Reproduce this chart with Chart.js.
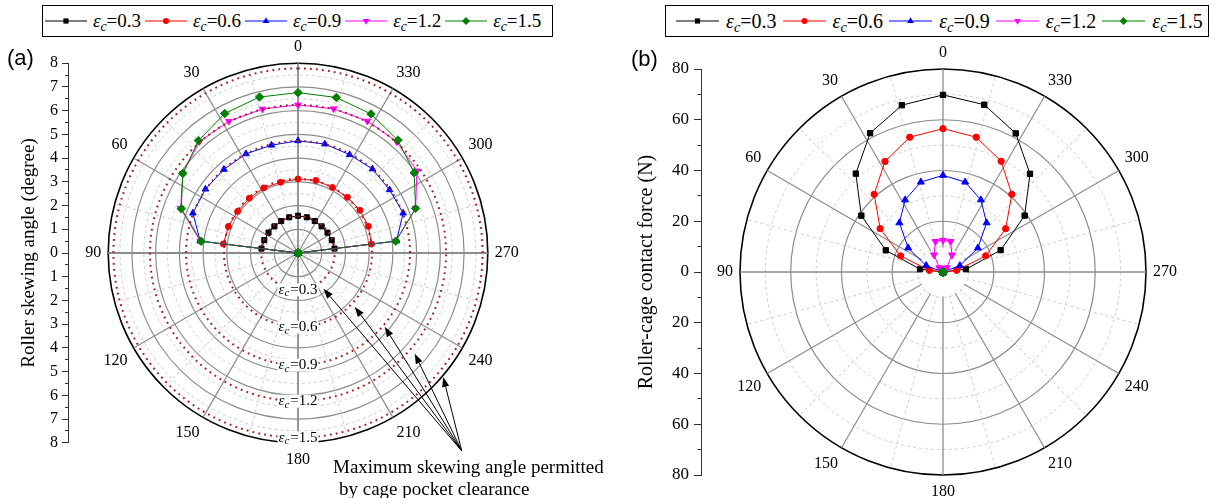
<!DOCTYPE html>
<html><head><meta charset="utf-8">
<script src="https://cdn.jsdelivr.net/npm/chart.js@4.4.1/dist/chart.umd.min.js"></script>
<style>
html,body{margin:0;padding:0;background:#fff;width:1209px;height:498px;overflow:hidden;position:relative;}
canvas{position:absolute;}
.legend{position:absolute;border:1.5px solid #000;box-sizing:border-box;display:flex;align-items:center;font-family:'Liberation Serif',serif;color:#000;background:#fff;white-space:nowrap;}
.legend .item{display:flex;align-items:center;}
.legend svg{display:block;}
.legend sub{font-size:0.72em;vertical-align:-0.3em;line-height:0;font-style:italic;}
.legend i{font-style:italic;}
.plabel{position:absolute;font-family:'Liberation Sans',sans-serif;font-size:22px;color:#000;}
.note{position:absolute;font-family:'Liberation Serif',serif;font-size:19px;white-space:nowrap;color:#000;}
</style></head><body>
<canvas id="ra" width="600" height="540" style="left:0px;top:0px"></canvas>
<canvas id="rb" width="619" height="540" style="left:590px;top:0px"></canvas>
<canvas id="ya" width="74" height="540" style="left:0px;top:0px"></canvas>
<canvas id="yb" width="106" height="540" style="left:600px;top:0px"></canvas>
<div id="lega" class="legend" style="left:42px;top:5px;width:511px;height:32px;font-size:19px"></div>
<div id="legb" class="legend" style="left:665px;top:5px;width:544px;height:32px;font-size:20px"></div>
<div class="plabel" style="left:7px;top:45px">(a)</div>
<div class="plabel" style="left:631px;top:46px">(b)</div>
<div class="note" style="left:333px;top:456px">Maximum skewing angle permitted</div>
<div class="note" style="left:339px;top:478px">by cage pocket clearance</div>
<script>
// ---------------- data ----------------
const ROLLER_ANGLES = [0,13.85,27.69,41.54,55.38,69.23,83.08,96.92,110.77,124.62,138.46,152.31,166.15,180,193.85,207.69,221.54,235.38,249.23,263.08,276.92,290.77,304.62,318.46,332.31,346.15];
const ANGLE_TICKS = ['0','30','60','90','120','150','180','210','240','270','300','330'];
const SERIES_NAMES = ['0.3','0.6','0.9','1.2','1.5'];
const COLORS = ['#000000','#ff0000','#0000ff','#ff00ff','#008000'];

// (a) roller skewing angle (degree)
const SKEW_03 = [1.57,1.55,1.52,1.50,1.51,1.52,1.55,0,0,0,0,0,0,0,0,0,0,0,0,0,1.55,1.52,1.51,1.50,1.52,1.55];
const SKEW_06 = [3.12,3.07,3.10,3.09,3.09,3.14,3.17,0,0,0,0,0,0,0,0,0,0,0,0,0,3.12,3.17,3.17,3.14,3.12,3.15];
const SKEW_09 = [4.73,4.68,4.72,4.71,4.74,4.74,4.15,0,0,0,0,0,0,0,0,0,0,0,0,0,4.18,4.74,4.69,4.73,4.68,4.73];
const SKEW_12 = [6.24,6.25,6.27,6.27,5.90,5.29,4.15,0,0,0,0,0,0,0,0,0,0,0,0,0,4.15,5.30,6.09,6.27,6.28,6.26];
const SKEW_15 = [6.76,6.77,6.64,6.33,5.90,5.26,4.11,0,0,0,0,0,0,0,0,0,0,0,0,0,4.15,5.30,5.95,6.35,6.62,6.75];
const SKEW_LIMITS = [1.55,3.12,4.72,6.24,7.78];

// (b) roller-cage contact force (N)
const FORCE_03 = [69.8,67.7,61.8,51.8,39.1,24.1,9.1,0,0,0,0,0,0,0,0,0,0,0,0,0,9.1,24.3,39.1,51.7,61.7,67.9];
const FORCE_06 = [56.5,54.7,49.2,40.9,30.1,17.9,5.4,0,0,0,0,0,0,0,0,0,0,0,0,0,5.4,18.0,30.0,40.9,49.3,54.7];
const FORCE_09 = [38.1,36.5,32.1,25.9,16.7,7.1,0,0,0,0,0,0,0,0,0,0,0,0,0,0,0,7.1,16.7,25.9,32.1,36.5];
const FORCE_12 = [12.5,12.4,7.6,2.2,0,0,0,0,0,0,0,0,0,0,0,0,0,0,0,0,0,0,0,2.2,7.6,12.4];
const FORCE_15 = [0,0,0,0,0,0,0,0,0,0,0,0,0,0,0,0,0,0,0,0,0,0,0,0,0,0];

// annotation arrows in panel (a): [value, angle]
const ARROW_ORIGIN = [10.83, 219.6];
const ARROW_TIP_VALUES = [1.85,3.3,4.8,6.5,8.05];
const ARROW_TIP_ANGLES = [215.5,226.5,229.6,229.2,229.5];

// ---------------- helpers ----------------
const N = 312;              // common angular grid (26 rollers x 24 spokes)
const STEP = 360 / N;
const STYLES = ['rect','circle','triangle','triangle','rectRot'];
const ROT = [0,0,0,180,0];
const RAD = [3.6,3,3.8,3.8,4.2];
function idx(theta){ return Math.round((((360 - theta) % 360) + 360) % 360 / STEP) % N; }
function thetaOf(i){ return (((360 - i*STEP) % 360) + 360) % 360; }
function isMult(x, m){ const r = ((x % m) + m) % m; return Math.min(r, m - r) < 1e-6; }

function drawEps(ctx, x, y, val, size){
  const f1 = 'italic ' + size + 'px "Liberation Serif"';
  const f2 = 'italic ' + Math.round(size*0.72) + 'px "Liberation Serif"';
  const f3 = size + 'px "Liberation Serif"';
  ctx.font = f1; const w1 = ctx.measureText('ε').width;
  ctx.font = f2; const w2 = ctx.measureText('c').width;
  ctx.font = f3; const w3 = ctx.measureText('=' + val).width;
  const W = w1 + w2 + w3 + 1; let x0 = x - W/2;
  ctx.fillStyle = '#fff'; ctx.fillRect(x0 - 1, y - size*0.42, W + 2, size*0.86);
  ctx.fillStyle = '#000'; ctx.textBaseline = 'middle'; ctx.textAlign = 'left';
  ctx.font = f1; ctx.fillText('ε', x0, y); x0 += w1;
  ctx.font = f2; ctx.fillText('c', x0, y + size*0.25); x0 += w2 + 1;
  ctx.font = f3; ctx.fillText('=' + val, x0, y);
}
function drawArrow(ctx, a, b){
  const ang = Math.atan2(b.y - a.y, b.x - a.x), L = 10, Wd = 3.6;
  const bx = b.x - L*Math.cos(ang), by = b.y - L*Math.sin(ang);
  ctx.strokeStyle = '#000'; ctx.lineWidth = 1; ctx.setLineDash([]);
  ctx.beginPath(); ctx.moveTo(a.x, a.y); ctx.lineTo(bx, by); ctx.stroke();
  ctx.fillStyle = '#000'; ctx.beginPath();
  ctx.moveTo(b.x, b.y);
  ctx.lineTo(bx + Wd*Math.sin(ang), by - Wd*Math.cos(ang));
  ctx.lineTo(bx - Wd*Math.sin(ang), by + Wd*Math.cos(ang));
  ctx.closePath(); ctx.fill();
}

const annotA = {
  id: 'annotA',
  afterDraw(chart){
    const s = chart.scales.r, ctx = chart.ctx;
    const pos = (v, a) => { const d = s.getDistanceFromCenterForValue(v), t = a*Math.PI/180; return {x: s.xCenter - d*Math.sin(t), y: s.yCenter - d*Math.cos(t)}; };
    ctx.save();
    SKEW_LIMITS.forEach((v, j) => { const p = pos(v, 180); drawEps(ctx, p.x, p.y, SERIES_NAMES[j], 15); });
    const o = pos(ARROW_ORIGIN[0], ARROW_ORIGIN[1]);
    ARROW_TIP_VALUES.forEach((v, j) => drawArrow(ctx, o, pos(v, ARROW_TIP_ANGLES[j])));
    ctx.restore();
  }
};
// panel (b): spokes start at the first (dashed) ring
const hubB = {
  id: 'hubB',
  beforeDatasetsDraw(chart){
    const s = chart.scales.r, ctx = chart.ctx;
    const d = s.getDistanceFromCenterForValue(10) - 0.8;
    ctx.save(); ctx.fillStyle = '#fff';
    ctx.beginPath(); ctx.arc(s.xCenter, s.yCenter, d, 0, Math.PI*2); ctx.fill();
    ctx.restore();
  }
};

function makeRadar(id, o){
  const labels = new Array(N).fill('');
  ANGLE_TICKS.forEach(t => { labels[idx(Number(t))] = t; });
  const datasets = [];
  o.series.forEach((vals, s) => {
    const data = new Array(N).fill(null);
    vals.forEach((v, k) => { data[idx(ROLLER_ANGLES[k])] = v; });
    datasets.push({
      label: SERIES_NAMES[s], data, borderColor: COLORS[s], backgroundColor: COLORS[s],
      pointBackgroundColor: COLORS[s], pointBorderColor: COLORS[s], pointBorderWidth: 1,
      pointStyle: STYLES[s], pointRotation: ROT[s], pointRadius: RAD[s]*o.markerScale,
      borderWidth: 1, fill: false, spanGaps: true, tension: 0, order: 5 - s
    });
  });
  (o.limits || []).forEach(v => {
    datasets.push({ data: new Array(N).fill(v), borderColor: '#a31d1d', borderWidth: 2,
      borderDash: [1.8, 4.2], pointRadius: 0, fill: false, spanGaps: true, order: 0 });
  });
  const spoke = i => { const t = thetaOf(i); return isMult(t, 90) ? 3 : isMult(t, 30) ? 2 : (isMult(t, 15) ? 1 : 0); };
  const pad = Object.assign({}, o.pad);
  const chart = new Chart(document.getElementById(id), {
    type: 'radar',
    data: { labels, datasets },
    options: {
      responsive: false, animation: false, events: [],
      layout: { padding: Object.assign({}, pad) },
      plugins: { legend: { display: false }, tooltip: { enabled: false } },
      elements: { line: { tension: 0 } },
      scales: { r: {
        min: 0, max: o.max, startAngle: 0, beginAtZero: true,
        ticks: { display: false, stepSize: o.minorStep, maxTicksLimit: 1000 },
        grid: {
          circular: true,
          color: c => { const v = c.tick.value; return v >= o.max ? '#000' : (isMult(v, o.majorStep) ? '#8c8c8c' : '#cccccc'); },
          lineWidth: c => { const v = c.tick.value; return v >= o.max ? 1.6 : (isMult(v, o.majorStep) ? 1.2 : 1); },
          borderDash: c => isMult(c.tick.value, o.majorStep) ? [] : [3, 3]
        },
        border: { dash: c => (c.tick && !isMult(c.tick.value, o.majorStep)) ? [3, 3] : [] },
        angleLines: {
          color: c => spoke(c.index) >= 2 ? (spoke(c.index) === 3 ? o.axisSpokeColor : '#8c8c8c') : '#cccccc',
          lineWidth: c => { const k = spoke(c.index); return k === 3 ? o.axisSpokeWidth : k === 2 ? 1.2 : k === 1 ? 1 : 0; },
          borderDash: c => spoke(c.index) === 1 ? [3, 3] : []
        },
        pointLabels: { color: '#000', padding: 7,
          font: c => ({ family: 'Liberation Serif', size: labels[c.index] ? o.labelSize : 1 }) }
      } }
    },
    plugins: o.plugins || []
  });
  // align the polar grid on the requested centre / radius
  for (let k = 0; k < 8; k++){
    const s = chart.scales.r;
    const dx = o.cx - s.xCenter, dy = o.cy - s.yCenter, dR = o.R - s.drawingArea;
    if (Math.abs(dx) < 0.5 && Math.abs(dy) < 0.5 && Math.abs(dR) < 0.5) break;
    pad.left += dx; pad.right -= dx; pad.top += dy - dR; pad.bottom -= dy + dR;
    chart.options.layout.padding = Object.assign({}, pad);
    chart.update();
  }
  return chart;
}

function makeAxis(id, radar, o){
  const s = radar.scales.r;
  const H = document.getElementById(id).height;
  const top = s.yCenter - s.drawingArea, bot = s.yCenter + s.drawingArea;
  return new Chart(document.getElementById(id), {
    type: 'scatter', data: { datasets: [] },
    options: {
      responsive: false, animation: false, events: [],
      layout: { padding: { left: o.padLeft, right: 0, top: top, bottom: H - bot } },
      plugins: { legend: { display: false }, tooltip: { enabled: false } },
      scales: {
        x: { display: false },
        y: {
          min: -o.max, max: o.max,
          afterFit: sc => { sc.width = o.width; },
          ticks: { stepSize: o.minorStep, autoSkip: false, maxTicksLimit: 1000, color: '#000', padding: o.tickPad,
            font: { family: 'Liberation Serif', size: o.tickSize },
            callback: v => isMult(v, o.majorStep) ? String(Math.abs(v)) : '' },
          grid: { drawOnChartArea: false, drawTicks: true, tickLength: o.tickLen, tickColor: '#333', tickWidth: 1,
            tickBorderDash: c => isMult(c.tick.value, o.majorStep) ? [] : [0, o.tickLen/2, o.tickLen/2, 100] },
          border: { display: true, color: '#333', width: 1 },
          title: { display: true, text: o.title, color: '#000',
            font: { family: 'Liberation Serif', size: o.titleSize }, padding: { top: o.titlePad, bottom: 0 } }
        }
      }
    }
  });
}

function markerSvg(s, cx, cy){
  const c = COLORS[s];
  if (s === 0) return `<rect x="${cx-2.6}" y="${cy-2.6}" width="5.2" height="5.2" fill="${c}"/>`;
  if (s === 1) return `<circle cx="${cx}" cy="${cy}" r="3" fill="${c}"/>`;
  if (s === 2) return `<polygon points="${cx},${cy-3.8} ${cx+3.3},${cy+1.9} ${cx-3.3},${cy+1.9}" fill="${c}"/>`;
  if (s === 3) return `<polygon points="${cx},${cy+3.8} ${cx+3.3},${cy-1.9} ${cx-3.3},${cy-1.9}" fill="${c}"/>`;
  return `<polygon points="${cx},${cy-4} ${cx+4},${cy} ${cx},${cy+4} ${cx-4},${cy}" fill="${c}"/>`;
}
function buildLegend(id, o){
  const el = document.getElementById(id);
  SERIES_NAMES.forEach((name, s) => {
    const item = document.createElement('div');
    item.className = 'item';
    item.style.marginLeft = (s === 0 ? o.first : o.gap) + 'px';
    item.innerHTML = `<svg width="${o.lineW}" height="14"><line x1="0" y1="7" x2="${o.lineW}" y2="7" stroke="${COLORS[s]}" stroke-width="1.2"/>${markerSvg(s, o.lineW/2, 7)}</svg>` +
      `<span style="margin-left:${o.textGap}px"><i>ε</i><sub>c</sub>=${name}</span>`;
    el.appendChild(item);
  });
}

// ---------------- build ----------------
const radarA = makeRadar('ra', {
  series: [SKEW_03, SKEW_06, SKEW_09, SKEW_12, SKEW_15], limits: SKEW_LIMITS,
  max: 8, majorStep: 1, minorStep: 0.5, markerScale: 1, labelSize: 16,
  axisSpokeColor: '#8c8c8c', axisSpokeWidth: 1.8,
  cx: 298, cy: 253, R: 190, pad: { left: 0, right: 4, top: 37, bottom: 71 }, plugins: [annotA]
});
const radarB = makeRadar('rb', {
  series: [FORCE_03, FORCE_06, FORCE_09, FORCE_12, FORCE_15],
  max: 80, majorStep: 20, minorStep: 10, markerScale: 1.05, labelSize: 16,
  axisSpokeColor: '#8c8c8c', axisSpokeWidth: 1.3,
  cx: 353, cy: 272, R: 203, pad: { left: 88, right: 1, top: 43, bottom: 39 }, plugins: [hubB]
});
makeAxis('ya', radarA, { max: 8, majorStep: 1, minorStep: 0.5, padLeft: 8, width: 60, tickLen: 6, tickPad: 4, tickSize: 16,
  title: 'Roller skewing angle (degree)', titleSize: 19, titlePad: 10 });
makeAxis('yb', radarB, { max: 80, majorStep: 20, minorStep: 10, padLeft: 10, width: 91, tickLen: 7, tickPad: 5, tickSize: 17,
  title: 'Roller-cage contact force (N)', titleSize: 20, titlePad: 25 });
buildLegend('lega', { first: 2, gap: 4, lineW: 42, textGap: 6 });
buildLegend('legb', { first: 10, gap: 6, lineW: 43, textGap: 7 });
</script>
</body></html>
